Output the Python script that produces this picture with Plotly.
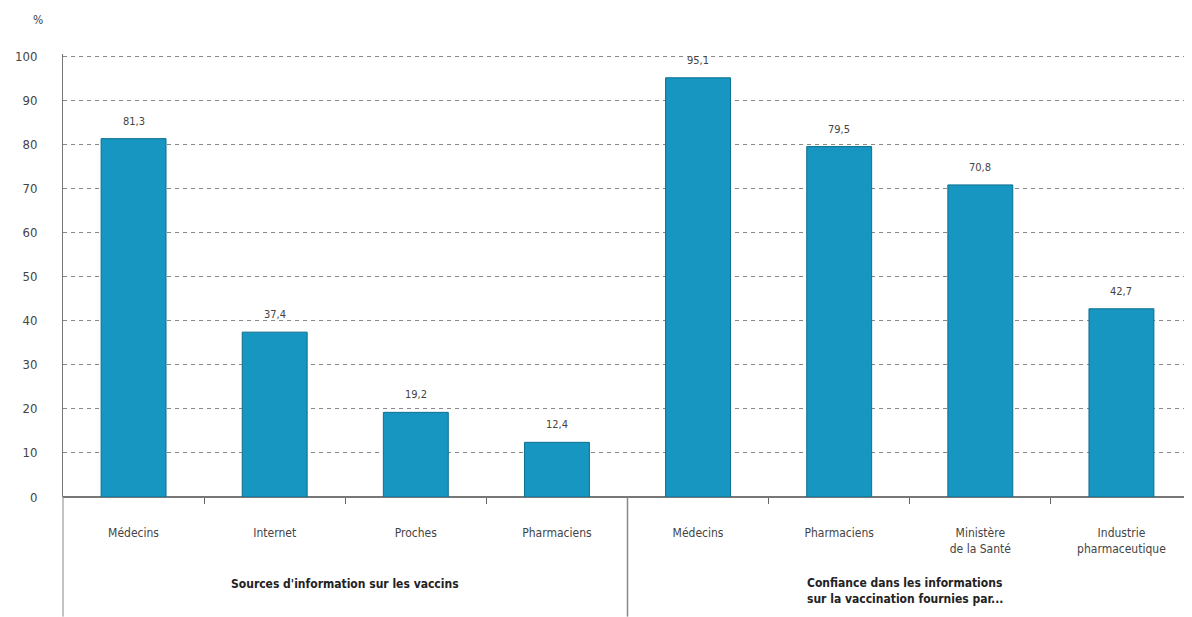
import plotly.graph_objects as go

categories = ["Médecins", "Internet", "Proches", "Pharmaciens",
              "Médecins", "Pharmaciens", "Ministère<br>de la Santé", "Industrie<br>pharmaceutique"]
values = [81.3, 37.4, 19.2, 12.4, 95.1, 79.5, 70.8, 42.7]
group_labels = ["Sources d'information sur les vaccins",
                "Confiance dans les informations<br>sur la vaccination fournies par..."]
y_ticks = list(range(0, 101, 10))

FONT = "Liberation Sans Narrow, DejaVu Sans Condensed, Arial Narrow, sans-serif"
xpos = list(range(len(categories)))

fig = go.Figure()
fig.add_trace(go.Bar(
    x=xpos, y=values, width=0.46,
    marker=dict(color="#1696c0", line=dict(color="#0d6f8f", width=1)),
    showlegend=False, hoverinfo="y",
))

for xi, v in zip(xpos, values):
    fig.add_annotation(x=xi, y=v, xref="x", yref="y",
                       text=f"{v:.1f}".replace(".", ","), showarrow=False,
                       yanchor="bottom", yshift=9,
                       font=dict(size=11, color="#444", family=FONT))

fig.update_layout(
    width=1184, height=609,
    margin=dict(l=55, r=0, t=46, b=120, autoexpand=False),
    plot_bgcolor="white", paper_bgcolor="white",
    separators=", ",
    font=dict(family=FONT, size=12, color="#333"),
    xaxis=dict(
        range=[-0.5, len(categories) - 0.5],
        tickvals=xpos, ticktext=categories, ticks="",
        ticklabelstandoff=27, automargin=False,
        showgrid=False, zeroline=False,
        showline=False,
        minor=dict(tickvals=[i + 0.5 for i in xpos[:-1]], ticks="outside",
                   ticklen=6, tickcolor="#666", showgrid=False),
        tickfont=dict(size=12, color="#444"),
    ),
    yaxis=dict(
        range=[0, 100.5], tickvals=y_ticks,
        showgrid=True, gridcolor="#888", griddash="4px,4px", gridwidth=1,
        zeroline=True, zerolinecolor="#777", zerolinewidth=1.5,
        showline=True, linecolor="#777", linewidth=1,
        ticks="", ticklabelstandoff=22, automargin=False,
        tickfont=dict(size=13, color="#444"),
    ),
    bargap=0.5,
)

# left axis extension and group separator
fig.add_shape(type="line", xref="paper", yref="paper", x0=0, x1=0, y0=0, y1=-0.27,
              line=dict(color="#888", width=1))
fig.add_shape(type="line", xref="x", yref="paper", x0=3.5, x1=3.5, y0=0, y1=-0.27,
              line=dict(color="#888", width=1.5))

fig.add_annotation(text="<b>" + group_labels[0] + "</b>", x=1.5, xref="x",
                   y=-0.197, yref="paper", showarrow=False, yanchor="middle",
                   font=dict(size=12, color="#222"))
fig.add_annotation(text="<b>" + group_labels[1] + "</b>", x=4.76, xref="x",
                   y=-0.174, yref="paper", showarrow=False, xanchor="left", yanchor="top",
                   align="left", font=dict(size=12, color="#222"))
fig.add_annotation(text="%", x=-0.028, xref="paper", y=1.096, yref="paper",
                   showarrow=False, font=dict(size=12, color="#444"))

fig.write_html("out.html")
